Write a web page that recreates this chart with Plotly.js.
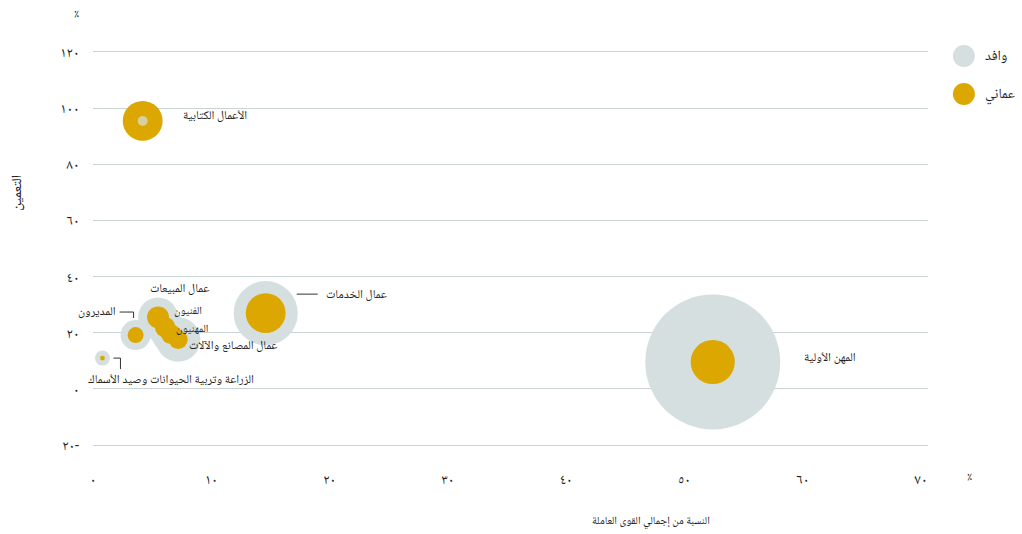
<!DOCTYPE html>
<html><head><meta charset="utf-8">
<script src="https://cdn.plot.ly/plotly-3.0.1.min.js"></script>
<style>html,body{margin:0;padding:0;background:#fff}#chart{width:1022px;height:534px}</style>
</head><body><div id="chart"></div>
<script>
// ---- data ----
const categories = ["الأعمال الكتابية","المهن الأولية","عمال الخدمات","المديرون","الزراعة وتربية الحيوانات وصيد الأسماك","عمال المبيعات","الفنيون","المهنيون","عمال المصانع والآلات"];
const workforceShare = [4.2, 52.4, 14.6, 3.6, 0.8, 5.5, 6.1, 6.6, 7.2];   // % of total workforce
const omanisation    = [95.4, 9.6, 27.0, 19.2, 11.0, 25.5, 22.0, 19.5, 17.6]; // %
const omaniWorkers   = [53, 65, 53, 8.5, 0.8, 16, 14, 13, 12];          // thousands (bubble size)
const expatWorkers   = [3.3, 607, 137, 30, 7.5, 53, 45, 50, 66];        // thousands (bubble size)
const seriesNames = ["وافد", "عماني"];
const xTickVals = [0,10,20,30,40,50,60,70];
const xTickText = ["٠","١٠","٢٠","٣٠","٤٠","٥٠","٦٠","٧٠"];
const yTickVals = [-20,0,20,40,60,80,100,120];
const yTickText = ["٢٠-","٠","٢٠","٤٠","٦٠","٨٠","١٠٠","١٢٠"];
const xTitle = "النسبة من إجمالي القوى العاملة";
const yTitle = "التعمين";

// ---- styles ----
const GREY = "#d5dfe0", GOLD = "#dca700", TXT = "#222";
const FONT = "Noto Naskh Arabic, Noto Sans Arabic, DejaVu Sans, sans-serif";
const SIZEREF = 2/30;

const traces = [
  {type:"scatter", mode:"markers", x:workforceShare, y:omanisation, name:seriesNames[0],
   marker:{size:expatWorkers, sizemode:"area", sizeref:SIZEREF, color:GREY, line:{width:0}, opacity:1}},
  {type:"scatter", mode:"markers", x:workforceShare, y:omanisation, name:seriesNames[1],
   marker:{size:omaniWorkers, sizemode:"area", sizeref:SIZEREF, color:GOLD, line:{width:0}, opacity:1}}
];
// expat bubbles smaller than Omani ones are drawn on top
const idxSmall = expatWorkers.map((v,i)=>v<omaniWorkers[i]?i:-1).filter(i=>i>=0);
traces.push({type:"scatter", mode:"markers", showlegend:false,
  x:idxSmall.map(i=>workforceShare[i]), y:idxSmall.map(i=>omanisation[i]),
  marker:{size:idxSmall.map(i=>expatWorkers[i]), sizemode:"area", sizeref:SIZEREF, color:GREY, line:{width:0}}});

// label placement (pixel offsets from each bubble centre)
const labelPos = [
  {xa:"left", dx:39, dy:4, fs:12},
  {xa:"left", dx:90, dy:4, fs:12},
  {xa:"left", dx:59, dy:18, fs:12},
  {xa:"right", dx:-19, dy:23, fs:12},
  {xa:"center", dx:69, dy:-22, fs:12},
  {xa:"center", dx:21, dy:28, fs:12},
  {xa:"right", dx:38, dy:16, fs:11},
  {xa:"right", dx:38, dy:5, fs:11},
  {xa:"right", dx:100, dy:-7, fs:12}
];
const annotations = categories.map((c,i)=>({
  x:workforceShare[i], y:omanisation[i], xref:"x", yref:"y", text:c, showarrow:false,
  xanchor:labelPos[i].xa, yanchor:"middle", xshift:labelPos[i].dx, yshift:labelPos[i].dy,
  borderpad:0, font:{family:FONT, size:labelPos[i].fs, color:TXT}
}));
annotations.push(
  {xref:"paper", yref:"paper", x:0.668, y:-0.193, text:xTitle, showarrow:false, xanchor:"center", yanchor:"middle", font:{family:FONT,size:11,color:TXT}},
  {xref:"paper", yref:"paper", x:-0.0898, y:0.641, text:yTitle, showarrow:false, textangle:-90, xanchor:"center", yanchor:"middle", font:{family:FONT,size:14,color:TXT}},
  {xref:"paper", yref:"paper", x:1.050, y:-0.081, text:"٪", showarrow:false, xanchor:"center", yanchor:"middle", font:{family:FONT,size:13,color:TXT}},
  {xref:"paper", yref:"paper", x:-0.0192, y:1.097, text:"٪", showarrow:false, xanchor:"center", yanchor:"middle", font:{family:FONT,size:13,color:TXT}},
  {xref:"paper", yref:"paper", x:1.066, y:0.990, text:seriesNames[0], showarrow:false, xanchor:"left", yanchor:"middle", font:{family:FONT,size:14,color:TXT}},
  {xref:"paper", yref:"paper", x:1.066, y:0.893, text:seriesNames[1], showarrow:false, xanchor:"left", yanchor:"middle", font:{family:FONT,size:14,color:TXT}}
);

function lineAt(i, x0, y0, x1, y1){
  return {type:"line", xref:"x", yref:"y", xsizemode:"pixel", ysizemode:"pixel",
    xanchor:workforceShare[i], yanchor:omanisation[i], x0:x0, x1:x1, y0:y0, y1:y1,
    line:{color:"#333", width:1}};
}
const shapes = [
  lineAt(2, 31, 19, 52, 19),
  lineAt(3, -16, 23, -2, 23), lineAt(3, -2, 23, -2, 17),
  lineAt(4, 11, 0, 18, 0), lineAt(4, 18, 0, 18, -11),
  {type:"circle", xref:"paper", yref:"paper", xsizemode:"pixel", ysizemode:"pixel", xanchor:1.043, yanchor:0.990, x0:-11, x1:11, y0:-11, y1:11, fillcolor:GREY, line:{width:0}},
  {type:"circle", xref:"paper", yref:"paper", xsizemode:"pixel", ysizemode:"pixel", xanchor:1.043, yanchor:0.893, x0:-11, x1:11, y0:-11, y1:11, fillcolor:GOLD, line:{width:0}}
];

// plot area: y=120 at 52px, y=-20 at 445px; range padded by 1 unit so edge gridlines draw
const layout = {
  width:1022, height:534, margin:{l:93, r:94, t:49, b:86},
  paper_bgcolor:"#fff", plot_bgcolor:"#fff", showlegend:false,
  font:{family:FONT, size:12, color:TXT},
  xaxis:{range:[0,70.6], tickvals:xTickVals, ticktext:xTickText, showgrid:false, zeroline:false, showline:false,
         ticks:"outside", ticklen:18, tickcolor:"rgba(0,0,0,0)", tickfont:{family:FONT,size:14,color:TXT}},
  yaxis:{range:[-21,121], tickvals:yTickVals, ticktext:yTickText, showgrid:true, gridcolor:"#c9d3d4", gridwidth:1, zeroline:false, showline:false,
         ticks:"outside", ticklen:10, tickcolor:"rgba(0,0,0,0)", tickfont:{family:FONT,size:14,color:TXT}},
  annotations:annotations, shapes:shapes, hovermode:false
};
// convert legend/title pixel rows to paper fractions of the plot box
const plotH = 534-49-86;
function py(px){ return (534-86-px)/plotH; }
layout.shapes[5].yanchor = py(56); layout.shapes[6].yanchor = py(94);
layout.annotations[categories.length+4].y = py(57);
layout.annotations[categories.length+5].y = py(95);
layout.annotations[categories.length+0].y = py(521);
layout.annotations[categories.length+1].y = py(193);
layout.annotations[categories.length+2].y = py(477);
layout.annotations[categories.length+3].y = py(14);
Plotly.newPlot("chart", traces, layout, {displayModeBar:false, staticPlot:true});
</script></body></html>
